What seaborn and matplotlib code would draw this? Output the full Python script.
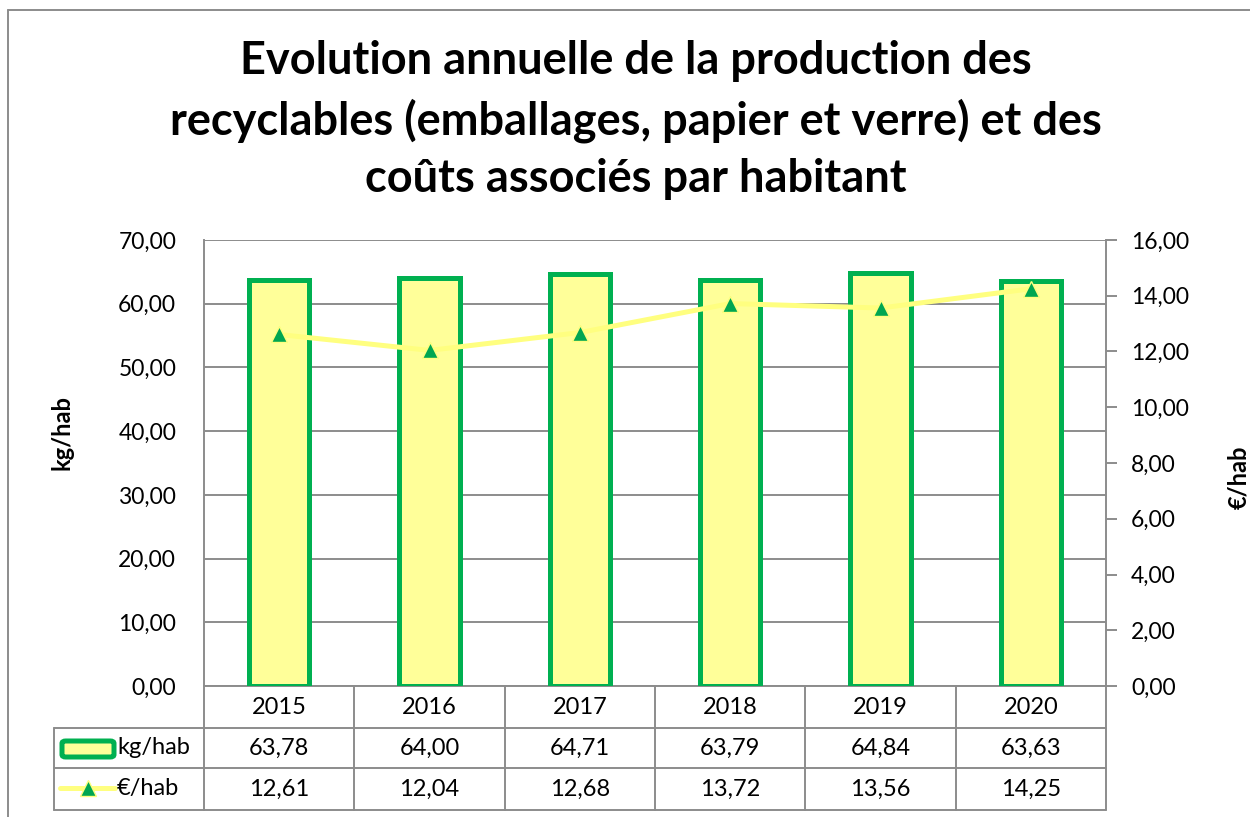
import numpy as np
import seaborn as sns
import matplotlib.pyplot as plt
from matplotlib.lines import Line2D
from matplotlib.patches import FancyBboxPatch
from matplotlib.ticker import FuncFormatter

# Data
years = ["2015", "2016", "2017", "2018", "2019", "2020"]
kg_hab = [63.78, 64.00, 64.71, 63.79, 64.84, 63.63]
eur_hab = [12.61, 12.04, 12.68, 13.72, 13.56, 14.25]

title = ("Evolution annuelle de la production des\n"
         "recyclables (emballages, papier et verre) et des\n"
         "coûts associés par habitant")

GREEN = "#00B050"
BAR_FILL = "#FFFF99"
LINE_YEL = "#FFFF80"
GRAY = "#8C8C8C"

sns.set_theme(style="white")
plt.rcParams['font.family'] = ['Lato', 'DejaVu Sans']
plt.rcParams['text.color'] = 'black'

W, H = 1250, 817
fig = plt.figure(figsize=(W / 100, H / 100), dpi=100)

# plot area in pixel coords
L, R, T, B = 204, 1106, 240, 686
ax = fig.add_axes([L / W, 1 - B / H, (R - L) / W, (B - T) / H])


def fmt(v, pos=None):
    return f"{v:.2f}".replace(".", ",")


TICK_FS = 16.5
TABLE_FS = 17
MARKER_SIZE = 12

# bars
sns.barplot(x=years, y=kg_hab, ax=ax, color=BAR_FILL, saturation=1,
            edgecolor=GREEN, linewidth=3.6, width=0.40, zorder=3)
ax.set_ylim(0, 70)
ax.set_xlim(-0.5, 5.5)
ax.set_yticks(np.arange(0, 71, 10))
ax.yaxis.set_major_formatter(FuncFormatter(fmt))
ax.yaxis.grid(True, color=GRAY, linewidth=1.4)
ax.set_axisbelow(True)
ax.tick_params(axis="y", length=0, pad=20, labelsize=TICK_FS, labelcolor="black")
ax.set_xticks([])
ax.set_xlabel("")
ax.set_ylabel("")
for s in ["top", "right"]:
    ax.spines[s].set_visible(False)
ax.spines["left"].set_color(GRAY)
ax.spines["left"].set_linewidth(1.4)
ax.spines["bottom"].set_color(GRAY)
ax.spines["bottom"].set_linewidth(1.4)

# line on secondary axis
ax2 = ax.twinx()
xpos = np.arange(len(years))
sns.lineplot(x=xpos, y=eur_hab, ax=ax2, color=LINE_YEL, linewidth=3.6,
             marker="^", markersize=MARKER_SIZE, markerfacecolor="#00A651",
             markeredgecolor=LINE_YEL, markeredgewidth=1.0, zorder=5)
ax2.set_ylim(0, 16)
ax2.set_xlim(-0.5, 5.5)
ax2.set_yticks(np.arange(0, 17, 2))
ax2.yaxis.set_major_formatter(FuncFormatter(fmt))
ax2.tick_params(axis="y", length=8, width=1.4, color=GRAY, pad=10,
                labelsize=TICK_FS, labelcolor="black", right=True, labelright=True,
                left=False, labelleft=False)
ax2.grid(False)
for s in ["top", "left", "bottom"]:
    ax2.spines[s].set_visible(False)
ax2.spines["right"].set_color(GRAY)
ax2.spines["right"].set_linewidth(1.4)
ax2.set_ylabel("")

# data table below the plot
tr = ax.get_xaxis_transform()
span = B - T


def ay(ypix):
    return (B - ypix) / span


rows = [686, 728, 768, 810]
line_kw = dict(transform=tr, color=GRAY, linewidth=1.4, clip_on=False)
for y in rows[1:]:
    ax.add_line(Line2D([-1.5, 5.5], [ay(y), ay(y)], **line_kw))
for i in range(len(years) + 1):
    ax.add_line(Line2D([i - 0.5, i - 0.5], [ay(rows[0]), ay(rows[-1])], **line_kw))
ax.add_line(Line2D([-1.5, -1.5], [ay(rows[1]), ay(rows[-1])], **line_kw))

for i, yr in enumerate(years):
    ax.text(i, ay(707), yr, transform=tr, ha="center", va="center", fontsize=TABLE_FS)
    ax.text(i, ay(748), fmt(kg_hab[i]), transform=tr, ha="center", va="center", fontsize=TABLE_FS)
    ax.text(i, ay(789), fmt(eur_hab[i]), transform=tr, ha="center", va="center", fontsize=TABLE_FS)

# legend keys in the table
fig.patches.append(FancyBboxPatch((62 / W, 1 - 757 / H), 52 / W, 16 / H,
                                  boxstyle="round,pad=0,rounding_size=0.003",
                                  transform=fig.transFigure, facecolor=BAR_FILL,
                                  edgecolor=GREEN, linewidth=3.6))
fig.text(117 / W, 1 - 748 / H, "kg/hab", ha="left", va="center", fontsize=TABLE_FS)
fig.add_artist(Line2D([60 / W, 115 / W], [1 - 788 / H, 1 - 788 / H],
                      color=LINE_YEL, linewidth=3.6))
fig.add_artist(Line2D([88 / W], [1 - 788 / H], marker="^", markersize=MARKER_SIZE,
                      markerfacecolor="#00A651", markeredgecolor=LINE_YEL,
                      markeredgewidth=1.0, linestyle="none"))
fig.text(117 / W, 1 - 789 / H, "€/hab", ha="left", va="center", fontsize=TABLE_FS)

# axis titles
fig.text(62 / W, 1 - 432 / H, "kg/hab", rotation=90, ha="center", va="center",
         fontsize=17, fontweight="bold")
fig.text(1239 / W, 1 - 477 / H, "€/hab", rotation=90, ha="center", va="center",
         fontsize=17, fontweight="bold")

# chart title
fig.text(636 / W, 1 - 120 / H, title, ha="center", va="center", fontsize=32.5,
         fontweight="bold", linespacing=1.45)

# outer frame
fig.add_artist(Line2D([8 / W, 8 / W], [0, 1 - 10 / H], color=GRAY, linewidth=1.4))
fig.add_artist(Line2D([8 / W, 1], [1 - 10 / H, 1 - 10 / H], color=GRAY, linewidth=1.4))

fig.savefig("out.png", dpi=100)
